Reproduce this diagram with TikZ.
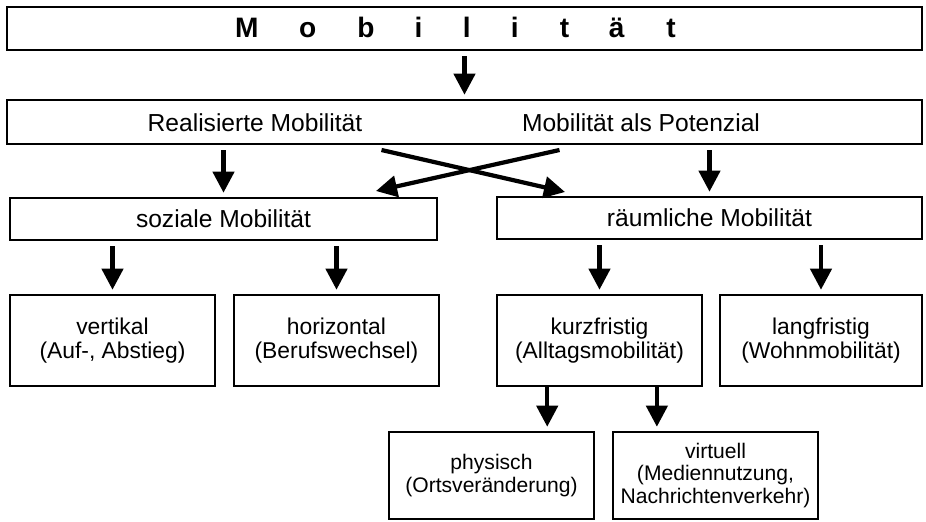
\documentclass[tikz,border=0pt]{standalone}
\usepackage{fontspec}
\setmainfont{Liberation Sans}
\usetikzlibrary{arrows.meta,calc}
\newcommand{\tbuchst}[2]{\makebox[#1pt]{#2}}
\begin{document}
\begin{tikzpicture}[
        x=0.02cm, y=-0.02cm,
        line width=1.2pt
    ]
    \tikzset{
        kasten/.style = {rectangle, draw=black, inner sep=0pt, outer sep=0pt, minimum height=0.84cm, font=\fontsize{14}{16}\selectfont},
        kastenb/.style = {kasten, minimum width=4.1cm, align=center, font=\fontsize{13}{14}\selectfont},
        kastenc/.style = {kastenb, font=\fontsize{12}{12.6}\selectfont},
        lab/.style = {inner sep=0pt, font=\fontsize{14}{16}\selectfont},
        titelschrift/.style = {inner sep=0pt, font=\fontsize{16}{16}\selectfont\bfseries},
        pfeil/.style = {-{Triangle[width=12pt,length=12pt]}, line width=2.4pt, shorten <=3.5pt, shorten >=3pt},
        kreuz/.style = {pfeil, shorten <=0pt, shorten >=0pt},
    }
        \useasboundingbox (0,0) rectangle (926,521);
        %
        \node[kasten, minimum width=18.3cm, minimum height=0.86cm] at (464.5,28.5) (titel) {};
        \node[titelschrift] at (457.75,27) (titeltext) {\tbuchst{34.6}{M}\tbuchst{34.6}{o}\tbuchst{31.7}{b}\tbuchst{28.1}{i}\tbuchst{26.9}{l}\tbuchst{27.8}{i}\tbuchst{28.9}{t}\tbuchst{30.3}{ä}\tbuchst{31.7}{t}};
        %
        \node[kasten, minimum width=18.3cm, minimum height=0.88cm] at (464.5,122) (reihe) {};
        \node[lab] at (255,123) (real) {Realisierte Mobilität};
        \node[lab] at (641,123) (pot) {Mobilität als Potenzial};
        %
        \node[kasten, minimum width=8.54cm] at (223.5,219) (sozial) {soziale Mobilität};
        \node[kasten, minimum width=8.5cm] at (709.5,218) (raum) {räumliche Mobilität};
        %
        \node[kastenb, minimum height=1.82cm] at (112.5,340.5) (vert) {vertikal\\(Auf-, Abstieg)};
        \node[kastenb, minimum height=1.82cm] at (336.5,340.5) (hori) {horizontal\\(Berufswechsel)};
        \node[kastenb, minimum height=1.82cm] at (599.5,340.5) (kurz) {kurzfristig\\(Alltagsmobilität)};
        \node[kastenb, minimum height=1.82cm, minimum width=4.04cm] at (821,340.5) (lang) {langfristig\\(Wohnmobilität)};
        %
        \node[kastenc, minimum height=1.74cm] at (491.5,475.5) (phys) {physisch\\(Ortsveränderung)};
        \node[kastenc, minimum height=1.74cm] at (715.5,475.5) (virt) {virtuell\\(Mediennutzung,\\Nachrichtenverkehr)};
        %
        \draw[pfeil] (titel.south) -- (reihe.north);
        \draw[pfeil] (sozial.north |- reihe.south) -- (sozial.north);
        \draw[pfeil] (raum.north |- reihe.south) -- (raum.north);
        \draw[kreuz] ($(reihe.south)+(-83,6)$) -- ($(raum.north west)+(68,-5)$);
        \draw[kreuz] ($(reihe.south)+(95,6)$) -- ($(sozial.north east)+(-61,-7)$);
        %
        \draw[pfeil] (vert.north |- sozial.south) -- (vert.north);
        \draw[pfeil] (hori.north |- sozial.south) -- (hori.north);
        \draw[pfeil] (kurz.north |- raum.south) -- (kurz.north);
        \draw[pfeil] (lang.north |- raum.south) -- (lang.north);
        %
        \coordinate (kl) at ($(kurz.south west)!0.245!(kurz.south east)$);
        \coordinate (kr) at ($(kurz.south west)!0.78!(kurz.south east)$);
        \draw[pfeil, shorten <=0pt] (kl) -- (kl |- phys.north);
        \draw[pfeil, shorten <=0pt] (kr) -- (kr |- virt.north);
    \end{tikzpicture}
\end{document}
